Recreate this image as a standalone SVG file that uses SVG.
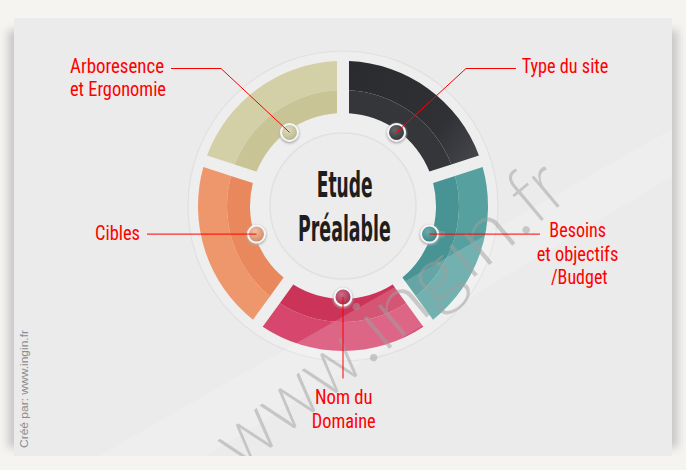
<svg xmlns="http://www.w3.org/2000/svg" width="686" height="470" viewBox="0 0 686 470">
<style>
.lbl{font-family:"Liberation Sans Narrow","Roboto Condensed","DejaVu Sans Condensed","Liberation Sans",sans-serif;font-size:21px;fill:#ff0000}
.ttl{font-family:"Liberation Sans Narrow","DejaVu Sans Condensed","Liberation Sans",sans-serif;font-size:35px;font-weight:bold;fill:#1e1e1e}
.con{fill:none;stroke:#ff0000;stroke-width:1}
.dot{stroke:#f6f6f6;stroke-width:2}
.wm{font-family:Lato,"DejaVu Sans",sans-serif;font-weight:300;font-size:80px;fill:#a0a0a0}
</style>
<defs>
<filter id="sh" x="-5%" y="-5%" width="110%" height="110%"><feGaussianBlur stdDeviation="4"/></filter>
<filter id="dsh" x="-50%" y="-50%" width="200%" height="200%"><feGaussianBlur stdDeviation="1"/></filter>
<clipPath id="pc"><rect x="14" y="18" width="658" height="438"/></clipPath>
<radialGradient id="gOl" cx="0.4" cy="0.35" r="0.7"><stop offset="0" stop-color="#e2dfc2"/><stop offset="1" stop-color="#b3b087"/></radialGradient>
<radialGradient id="gBk" cx="0.4" cy="0.35" r="0.7"><stop offset="0" stop-color="#66676c"/><stop offset="1" stop-color="#303135"/></radialGradient>
<radialGradient id="gTl" cx="0.4" cy="0.35" r="0.7"><stop offset="0" stop-color="#6aabab"/><stop offset="1" stop-color="#3a8282"/></radialGradient>
<radialGradient id="gPk" cx="0.4" cy="0.35" r="0.7"><stop offset="0" stop-color="#d06a86"/><stop offset="1" stop-color="#982c4b"/></radialGradient>
<radialGradient id="gOr" cx="0.4" cy="0.35" r="0.7"><stop offset="0" stop-color="#f2c0a4"/><stop offset="1" stop-color="#cf845f"/></radialGradient>
<linearGradient id="gBkSeg" x1="0" y1="0" x2="1" y2="0"><stop offset="0" stop-color="#2a2b2f"/><stop offset="0.7" stop-color="#303135"/><stop offset="1" stop-color="#45464b"/></linearGradient>
<path id="segO" d="M262.69 85.27A145 145 0 0 1 423.31 85.27L406.23 108.75A116 116 0 0 0 279.77 108.75Z"/>
<path id="segI" d="M279.77 108.75A116 116 0 0 1 406.23 108.75L392.70 127.39A93 93 0 0 0 293.30 127.39Z"/>
</defs>
<rect width="686" height="470" fill="#f6f4f1"/>
<rect x="8" y="30" width="670" height="418" fill="#b5b5b5" opacity="0.7" filter="url(#sh)"/>
<rect x="14" y="18" width="658" height="438" fill="#ebebeb"/>
<text x="28" y="448" transform="rotate(-90 28 448)" font-family="Liberation Sans, sans-serif" font-size="11.5" fill="#8c8c8c" textLength="118" lengthAdjust="spacingAndGlyphs">Créé par: www.ingin.fr</text>
<circle cx="343" cy="206" r="155" fill="#eeeeee" stroke="#e0e0e0" stroke-width="1.2"/>
<g id="node-type-du-site">
<g transform="rotate(36 343 206)"><use href="#segO" fill="url(#gBkSeg)"/><use href="#segI" fill="#35363a"/></g>
</g>
<g id="node-besoins">
<g transform="rotate(108 343 206)"><use href="#segO" fill="#57a0a0"/><use href="#segI" fill="#489393"/></g>
</g>
<g id="node-nom-du-domaine">
<g transform="rotate(180 343 206)"><use href="#segO" fill="#d7466d"/><use href="#segI" fill="#cc3358"/></g>
</g>
<g id="node-cibles">
<g transform="rotate(252 343 206)"><use href="#segO" fill="#ee976c"/><use href="#segI" fill="#e9885c"/></g>
</g>
<g id="node-arboresence">
<g transform="rotate(324 343 206)"><use href="#segO" fill="#d3cfa7"/><use href="#segI" fill="#c8c495"/></g>
</g>
<path d="M0,512 L686,121 L686,168 L0,579Z" fill="#ffffff" opacity="0.17" clip-path="url(#pc)"/>
<g id="node-etude">
<circle cx="343" cy="206" r="73" fill="#ececec" stroke="#e1e1e1" stroke-width="1.5"/>
<text class="ttl" x="344.7" y="196.7" text-anchor="middle" textLength="56" lengthAdjust="spacingAndGlyphs">Etude</text>
<text class="ttl" x="344.4" y="240.7" text-anchor="middle" textLength="92.7" lengthAdjust="spacingAndGlyphs">Préalable</text>
</g>
<g id="watermark" clip-path="url(#pc)" opacity="0.5">
<g transform="translate(375.6 360.1) rotate(-40)">
<text class="wm" x="-10" y="0" text-anchor="end" textLength="165" lengthAdjust="spacingAndGlyphs">www</text>
<text class="wm" x="0" y="0" text-anchor="middle">.</text>
<text class="wm" x="10" y="0" textLength="179" lengthAdjust="spacingAndGlyphs">ingin</text>
<text class="wm" x="199" y="0" text-anchor="middle">.</text>
<text class="wm" x="209" y="0" textLength="46" lengthAdjust="spacingAndGlyphs">fr</text>
</g>
</g>
<g id="dots">
<g filter="url(#dsh)" fill="#b0b0b0"><circle cx="289.5" cy="133.4" r="10"/><circle cx="396.5" cy="133.4" r="10"/><circle cx="429.5" cy="235.1" r="10"/><circle cx="343" cy="298" r="10"/><circle cx="256.5" cy="235.1" r="10"/></g>
<circle class="dot" cx="289.5" cy="132.4" r="8.5" fill="url(#gOl)"/>
<circle class="dot" cx="396.5" cy="132.4" r="8.5" fill="url(#gBk)"/>
<circle class="dot" cx="429.5" cy="234.1" r="8.5" fill="url(#gTl)"/>
<circle class="dot" cx="343" cy="297" r="8.5" fill="url(#gPk)"/>
<circle class="dot" cx="256.5" cy="234.1" r="8.5" fill="url(#gOr)"/>
</g>
<g id="labels">
<text class="lbl" x="70" y="73.3" textLength="94" lengthAdjust="spacingAndGlyphs">Arboresence</text>
<text class="lbl" x="70" y="95.5" textLength="96" lengthAdjust="spacingAndGlyphs">et Ergonomie</text>
<text class="lbl" x="521.7" y="73.3" textLength="86.6" lengthAdjust="spacingAndGlyphs">Type du site</text>
<text class="lbl" x="95" y="239.5" textLength="45" lengthAdjust="spacingAndGlyphs">Cibles</text>
<text class="lbl" x="577.7" y="236.7" text-anchor="middle" textLength="56.7" lengthAdjust="spacingAndGlyphs">Besoins</text>
<text class="lbl" x="577.5" y="260.5" text-anchor="middle" textLength="81.6" lengthAdjust="spacingAndGlyphs">et objectifs</text>
<text class="lbl" x="579.3" y="283.5" text-anchor="middle" textLength="56.7" lengthAdjust="spacingAndGlyphs">/Budget</text>
<text class="lbl" x="343.8" y="404" text-anchor="middle" textLength="57.7" lengthAdjust="spacingAndGlyphs">Nom du</text>
<text class="lbl" x="343.7" y="427.7" text-anchor="middle" textLength="64" lengthAdjust="spacingAndGlyphs">Domaine</text>
</g>
<g id="connectors">
<polyline class="con" points="171,68.5 221,68.5 289.5,132.4"/>
<polyline class="con" points="516,68.5 466,68.5 396.5,132.4"/>
<line class="con" x1="147" y1="234.1" x2="256.5" y2="234.1"/>
<line class="con" x1="429.5" y1="234.1" x2="540" y2="234.1"/>
<line class="con" x1="343" y1="297" x2="343" y2="378.5"/>
</g>
</svg>
